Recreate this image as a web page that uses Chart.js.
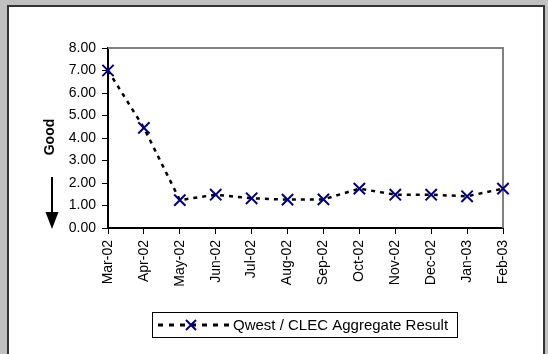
<!DOCTYPE html>
<html>
<head>
<meta charset="utf-8">
<script src="https://cdn.jsdelivr.net/npm/chart.js@4.4.1/dist/chart.umd.min.js"></script>
<style>
  html, body { margin: 0; padding: 0; background: #c0c0c0; }
  canvas { display: block; }
</style>
</head>
<body>
<canvas id="myChart" width="548" height="354"></canvas>
<script>
// months along the bottom
var months = ["Mar-02", "Apr-02", "May-02", "Jun-02", "Jul-02", "Aug-02",
              "Sep-02", "Oct-02", "Nov-02", "Dec-02", "Jan-03", "Feb-03"];
// Qwest / CLEC aggregate result
var aggregate = [7.00, 4.45, 1.24, 1.48, 1.32, 1.26, 1.27, 1.75, 1.48, 1.48, 1.41, 1.75];
var seriesName = "Qwest / CLEC Aggregate Result";
var yTicks = [0, 1, 2, 3, 4, 5, 6, 7, 8];

var FONT = "'Liberation Sans', Arial, sans-serif";

// grey background, white panel, "Good" arrow, legend box
var decor = {
  id: 'decor',
  beforeDraw: function(chart) {
    var c = chart.ctx;
    c.save();
    c.fillStyle = '#c0c0c0';
    c.fillRect(0, 0, chart.width, chart.height);
    c.fillStyle = '#ffffff';
    c.fillRect(8, 6, 536, 360);
    c.strokeStyle = '#333333';
    c.lineWidth = 2;
    c.strokeRect(8, 6, 536, 360);
    c.restore();
  },
  beforeDatasetsDraw: function(chart) {
    var a = chart.chartArea, c = chart.ctx;
    c.save();
    c.strokeStyle = '#808080';
    c.lineWidth = 2;
    c.beginPath();
    c.moveTo(a.left, a.top);
    c.lineTo(a.right, a.top);
    c.lineTo(a.right, a.bottom);
    c.stroke();
    c.restore();
  },
  afterDraw: function(chart) {
    var c = chart.ctx;
    c.save();
    // "Good" label
    c.translate(50, 137);
    c.rotate(-Math.PI / 2);
    c.font = "bold 14px " + FONT;
    c.fillStyle = '#000';
    c.textAlign = 'center';
    c.textBaseline = 'middle';
    c.fillText('Good', 0, 0);
    c.restore();

    // arrow pointing down
    c.save();
    c.strokeStyle = '#000';
    c.lineWidth = 2;
    c.beginPath();
    c.moveTo(52, 177);
    c.lineTo(52, 213);
    c.stroke();
    c.fillStyle = '#000';
    c.beginPath();
    c.moveTo(45.5, 212);
    c.lineTo(58.5, 212);
    c.lineTo(52, 229);
    c.closePath();
    c.fill();
    c.restore();

    // legend
    c.save();
    c.fillStyle = '#fff';
    c.fillRect(152, 312, 306, 26);
    c.strokeStyle = '#000';
    c.lineWidth = 1;
    c.strokeRect(152.5, 312.5, 305, 25);
    c.setLineDash([5, 6]);
    c.lineWidth = 3;
    c.beginPath();
    c.moveTo(158, 325);
    c.lineTo(229, 325);
    c.stroke();
    c.setLineDash([]);
    c.strokeStyle = '#000080';
    c.lineWidth = 2;
    c.beginPath();
    c.moveTo(186, 320); c.lineTo(196, 330);
    c.moveTo(196, 320); c.lineTo(186, 330);
    c.stroke();
    c.font = "15px " + FONT;
    c.fillStyle = '#000';
    c.textBaseline = 'middle';
    c.fillText(seriesName, 233, 326);
    c.restore();
  }
};

var ctx = document.getElementById('myChart').getContext('2d');

new Chart(ctx, {
  type: "line",
  data: {
    labels: months,
    datasets: [{
      label: seriesName,
      data: aggregate,
      borderColor: "#000000",
      borderWidth: 2.5,
      borderDash: [4, 5],
      tension: 0,
      fill: false,
      pointStyle: 'crossRot',
      pointRadius: 8,
      pointBorderColor: "#000080",
      pointBorderWidth: 2,
      pointBackgroundColor: "#000080",
      clip: false
    }]
  },
  options: {
    responsive: false,
    animation: false,
    layout: {
      padding: { top: 48, right: 45, left: 0, bottom: 0 }
    },
    plugins: {
      legend: { display: false },
      tooltip: { enabled: false }
    },
    scales: {
      y: {
        min: 0,
        max: 8,
        afterFit: function(scale) { scale.width = 108; },
        afterBuildTicks: function(scale) {
          scale.ticks = yTicks.map(function(v) { return { value: v }; });
        },
        grid: {
          display: true,
          drawOnChartArea: false,
          drawTicks: true,
          tickLength: 6,
          color: '#000'
        },
        border: { display: true, color: '#000', width: 2 },
        ticks: {
          padding: 6,
          color: '#000',
          font: { size: 14, family: FONT },
          callback: function(v) { return Number(v).toFixed(2); }
        }
      },
      x: {
        afterFit: function(scale) { scale.height = 126; },
        grid: {
          display: true,
          drawOnChartArea: false,
          drawTicks: true,
          tickLength: 6,
          color: '#000'
        },
        border: { display: true, color: '#000', width: 2 },
        ticks: {
          padding: 6,
          minRotation: 90,
          maxRotation: 90,
          autoSkip: false,
          color: '#000',
          font: { size: 14, family: FONT }
        }
      }
    }
  },
  plugins: [decor]
});
</script>
</body>
</html>
